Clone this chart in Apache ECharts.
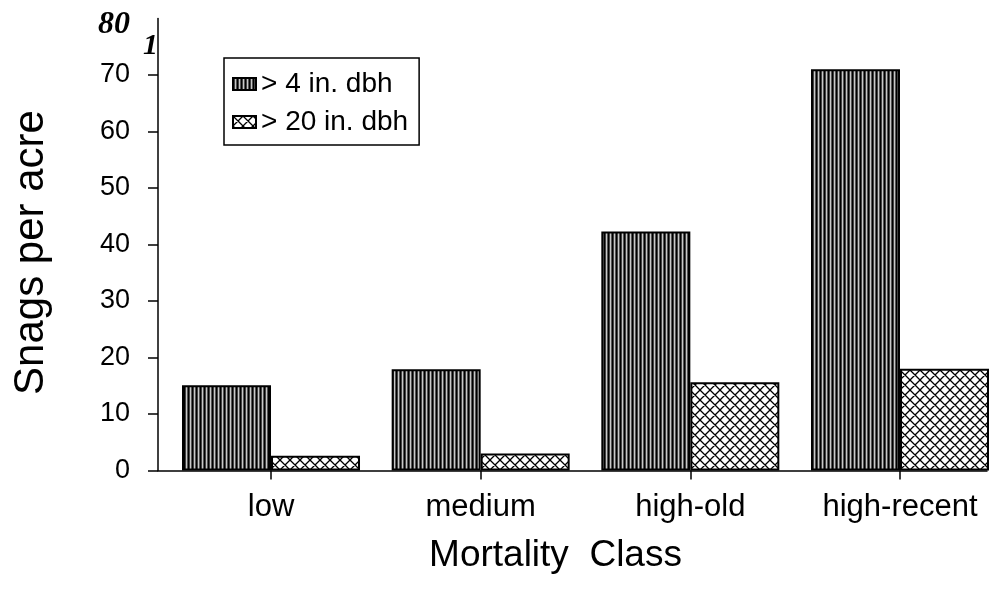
<!DOCTYPE html>
<html><head><meta charset="utf-8">
<script src="https://cdn.jsdelivr.net/npm/echarts@6/dist/echarts.min.js"></script>
<style>html,body{margin:0;padding:0;background:#fff}#c{width:996px;height:598px}</style>
</head><body><div id="c"></div>
<script>
const categories = ['low', 'medium', 'high-old', 'high-recent'];
const seriesNames = ['> 4 in. dbh', '> 20 in. dbh'];
const snags4in = [15.1, 17.9, 42.3, 71.0];
const snags20in = [2.6, 3.0, 15.6, 18.0];
const yTicks = [0, 10, 20, 30, 40, 50, 60, 70];
const yLabels = [0, 10, 20, 30, 40, 50, 60, 70, 80];
const xAxisTitle = 'Mortality  Class';
const yAxisTitle = 'Snags per acre';

function stripePattern() {
  const c = document.createElement('canvas');
  c.width = 4; c.height = 8;
  const g = c.getContext('2d');
  ['#000', '#444', '#c8c8c8', '#555'].forEach((col, i) => { g.fillStyle = col; g.fillRect(i, 0, 1, 8); });
  return c;
}
function hatchPattern() {
  const s = 10;
  const c = document.createElement('canvas');
  c.width = s; c.height = s;
  const g = c.getContext('2d');
  g.fillStyle = '#fff'; g.fillRect(0, 0, s, s);
  g.strokeStyle = '#000'; g.lineWidth = 1.3;
  g.beginPath();
  for (const o of [-s, 0, s]) {
    g.moveTo(o, 0); g.lineTo(o + s, s);
    g.moveTo(o + s, 0); g.lineTo(o, s);
  }
  g.stroke();
  return c;
}

const chart = echarts.init(document.getElementById('c'), null, { renderer: 'canvas' });
const font = 'Liberation Sans';
const toPairs = arr => arr.map((v, i) => [i, v]);

chart.setOption({
  animation: false,
  backgroundColor: '#fff',
  textStyle: { fontFamily: font, color: '#000' },
  grid: { left: 158, right: 9, top: 18.5, bottom: 127.5, containLabel: false },
  legend: {
    data: seriesNames,
    orient: 'vertical',
    left: 224, top: 58,
    borderColor: '#000', borderWidth: 1.5,
    padding: [12, 11, 9, 8],
    itemWidth: 23, itemHeight: 12, itemGap: 10,
    icon: 'rect',
    textStyle: { fontSize: 28, color: '#000', fontFamily: font }
  },
  xAxis: {
    type: 'value',
    min: -0.539, max: 3.415,
    axisLine: { show: true, onZero: false, lineStyle: { color: '#000', width: 1.5 } },
    axisTick: { show: true, customValues: [0, 1, 2, 3], length: 9, lineStyle: { color: '#000', width: 1.5 } },
    axisLabel: { customValues: [0, 1, 2, 3], formatter: v => categories[Math.round(v)], fontSize: 31, margin: 21, color: '#000', fontFamily: font },
    splitLine: { show: false },
    name: xAxisTitle, nameLocation: 'middle', nameGap: 67,
    nameTextStyle: { fontSize: 37, color: '#000', fontFamily: font, padding: [0, 34, 0, 0] }
  },
  yAxis: {
    type: 'value',
    min: 0, max: 80, interval: 10,
    axisLine: { show: true, onZero: false, lineStyle: { color: '#000', width: 1.5 } },
    axisTick: { show: true, customValues: yTicks, length: 10, lineStyle: { color: '#000', width: 1.5 } },
    axisLabel: {
      customValues: yLabels,
      fontSize: 27, margin: 28, color: '#000', fontFamily: font,
      formatter: v => v === 80 ? '{it|80}' : String(v),
      rich: { it: { fontFamily: 'Liberation Serif', fontStyle: 'italic', fontWeight: 'bold', fontSize: 32, padding: [12, 0, 0, 0] } }
    },
    splitLine: { show: false },
    name: yAxisTitle, nameLocation: 'middle', nameGap: 106, nameRotate: 90,
    nameTextStyle: { fontSize: 42, color: '#000', fontFamily: font, padding: [0, 16, 0, 0] }
  },
  graphic: [{
    type: 'text', left: 143, top: 31,
    style: { text: '1', font: 'italic bold 30px "Liberation Serif"', fill: '#000' }
  }],
  series: [
    {
      name: seriesNames[0], type: 'bar', data: toPairs(snags4in),
      barWidth: 89, barGap: '0%',
      itemStyle: { color: { image: stripePattern(), repeat: 'repeat' }, borderColor: '#000', borderWidth: 2 }
    },
    {
      name: seriesNames[1], type: 'bar', data: toPairs(snags20in),
      barWidth: 89, barGap: '0%',
      itemStyle: { color: { image: hatchPattern(), repeat: 'repeat' }, borderColor: '#000', borderWidth: 2 }
    }
  ]
});
</script>
</body></html>
